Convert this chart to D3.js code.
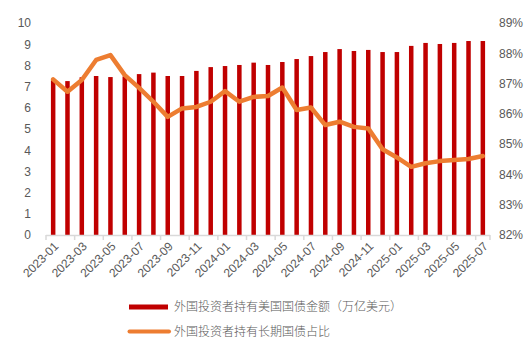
<!DOCTYPE html>
<html><head><meta charset="utf-8">
<script src="https://cdn.jsdelivr.net/npm/d3@7/dist/d3.min.js"></script>
<style>body{margin:0;background:#fff}svg{display:block}</style>
</head><body>
<svg id="c" width="531" height="354"></svg>
<script>
const months = ["2023-01","2023-02","2023-03","2023-04","2023-05","2023-06","2023-07","2023-08","2023-09","2023-10","2023-11","2023-12",
"2024-01","2024-02","2024-03","2024-04","2024-05","2024-06","2024-07","2024-08","2024-09","2024-10","2024-11","2024-12",
"2025-01","2025-02","2025-03","2025-04","2025-05","2025-06","2025-07"];
const holdings = [7.30,7.26,7.44,7.50,7.45,7.48,7.59,7.66,7.50,7.50,7.74,7.92,
7.97,8.02,8.13,8.02,8.16,8.30,8.44,8.63,8.77,8.68,8.73,8.63,
8.63,8.92,9.06,9.01,9.06,9.15,9.15];
const share = [87.14,86.73,87.12,87.78,87.94,87.28,86.86,86.40,85.90,86.18,86.23,86.40,
86.75,86.40,86.56,86.59,86.87,86.13,86.21,85.63,85.74,85.57,85.52,84.83,
84.56,84.25,84.37,84.44,84.48,84.51,84.61];
const leftTicks = [0,1,2,3,4,5,6,7,8,9,10];
const rightTicks = [82,83,84,85,86,87,88,89];
const legendLabels = ["外国投资者持有美国国债金额（万亿美元）","外国投资者持有长期国债占比"];

const svg = d3.select("#c");
const x = d3.scaleBand().domain(months).range([46,490]).paddingInner(0).paddingOuter(0);
const yL = d3.scaleLinear().domain([0,10]).range([235,23]);
const yR = d3.scaleLinear().domain([82,89]).range([235,23]);
const txt = "#595959";
const font = "Liberation Sans, Arial, sans-serif";

// bars
const bw = 4.5;
svg.append("g").selectAll("rect").data(months).join("rect")
  .attr("x", d => x(d) + x.bandwidth()/2 - bw/2)
  .attr("width", bw)
  .attr("y", (d,i) => yL(holdings[i]))
  .attr("height", (d,i) => yL(0) - yL(holdings[i]))
  .attr("fill", "#C00000");

// left axis
const gl = svg.append("g").attr("transform","translate(31,0)")
  .call(d3.axisLeft(yL).tickValues(leftTicks).tickSize(0).tickPadding(0));
gl.select(".domain").remove();
gl.selectAll("text").attr("fill",txt).style("font-family",font).style("font-size","12px");

// right axis
const gr = svg.append("g").attr("transform","translate(499,0)")
  .call(d3.axisRight(yR).tickValues(rightTicks).tickFormat(d => d + "%").tickSize(0).tickPadding(0));
gr.select(".domain").remove();
gr.selectAll("text").attr("fill",txt).style("font-family",font).style("font-size","12px");

// x axis line and ticks
const gx = svg.append("g");
gx.append("line").attr("x1",46).attr("x2",490).attr("y1",235.5).attr("y2",235.5)
  .attr("stroke","#d9d9d9").attr("stroke-width",1.5);
const tickPos = months.filter((d,i)=>i%2===0).map(d => x(d));
tickPos.push(x.range()[1]);
gx.selectAll("line.t").data(tickPos).join("line").attr("class","t")
  .attr("x1",d=>d).attr("x2",d=>d).attr("y1",235).attr("y2",240)
  .attr("stroke","#d9d9d9").attr("stroke-width",1.5);
gx.selectAll("text").data(months.filter((d,i)=>i%2===0)).join("text")
  .attr("transform", d => `translate(${x(d)+x.bandwidth()/2+3},${244}) rotate(-45)`)
  .attr("text-anchor","end").attr("dy","0.35em")
  .attr("fill",txt).style("font-family",font).style("font-size","12px")
  .text(d=>d);

// line
const line = d3.line().x((d,i)=>x(months[i])+x.bandwidth()/2).y(d=>yR(d));
svg.append("path").datum(share).attr("d",line)
  .attr("fill","none").attr("stroke","#ED7D31").attr("stroke-width",4.5)
  .attr("stroke-linejoin","round").attr("stroke-linecap","round");

// legend
const lg = svg.append("g");
lg.append("rect").attr("x",129).attr("y",304.5).attr("width",39).attr("height",5).attr("fill","#C00000");
lg.append("line").attr("x1",129.5).attr("x2",169).attr("y1",331.5).attr("y2",331.5)
  .attr("stroke","#ED7D31").attr("stroke-width",4).attr("stroke-linecap","round");
lg.selectAll("text").data(legendLabels).join("text")
  .attr("x",174).attr("y",(d,i)=>307+i*25).attr("dy","0.35em")
  .attr("fill",txt).style("font-family","Noto Sans CJK SC, sans-serif").style("font-size","12px")
  .style("font-weight","300")
  .text(d=>d);
</script>
</body></html>
